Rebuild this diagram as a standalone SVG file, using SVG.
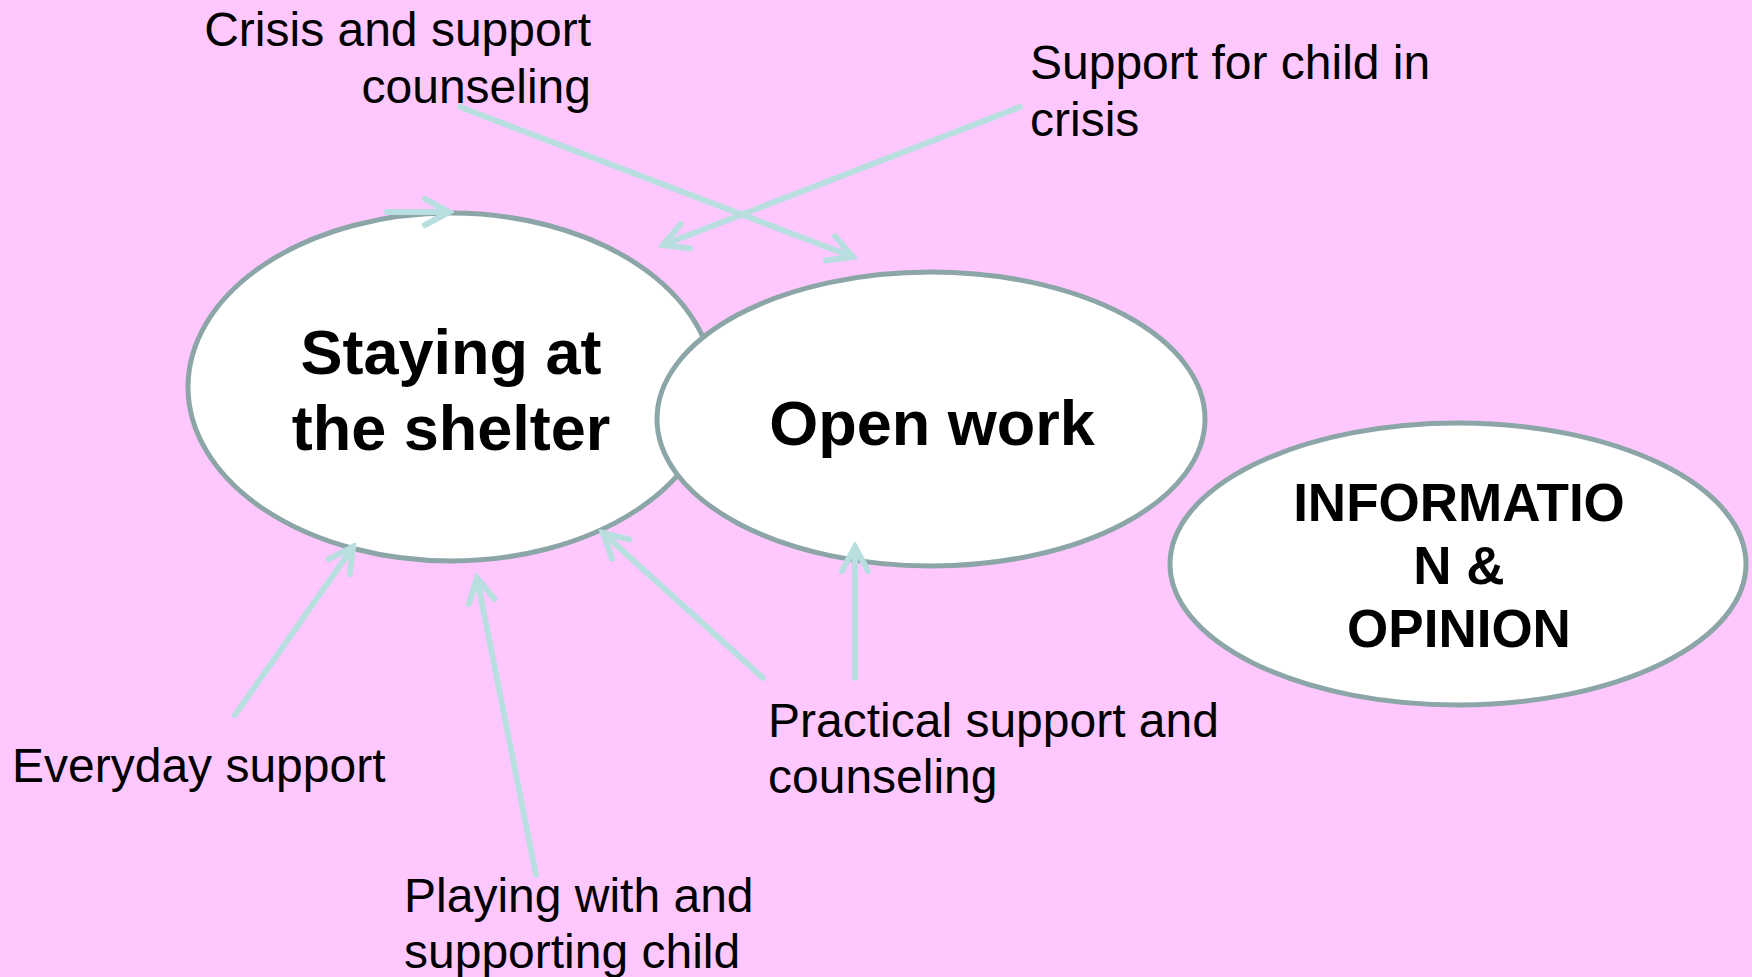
<svg xmlns="http://www.w3.org/2000/svg" width="1752" height="977" viewBox="0 0 1752 977">
<style>
.node{fill:#ffffff;stroke:#8ca6a7;stroke-width:5}
.bold{font-family:"Liberation Sans",Arial,sans-serif;font-weight:bold;fill:#000;text-anchor:middle}
.lbl{font-family:"Liberation Sans",Arial,sans-serif;font-size:48px;fill:#000}
.conn{stroke:#b8dee0;stroke-width:6;fill:none;stroke-linecap:round}
</style>
<defs>
<marker id="arr" markerUnits="userSpaceOnUse" viewBox="0 0 34 34" refX="29" refY="17" markerWidth="34" markerHeight="34" orient="auto">
<path d="M5,4 L29,17 L5,30" fill="none" stroke="#b8dee0" stroke-width="6" stroke-linecap="round" stroke-linejoin="miter"/>
</marker>
</defs>
<rect width="1752" height="977" fill="#fec8fe"/>
<g id="node-shelter">
<ellipse class="node" cx="451" cy="387" rx="263" ry="174"/>
<text class="bold" font-size="63" x="451" y="374">Staying at</text>
<text class="bold" font-size="63" x="451" y="450">the shelter</text>
</g>
<g id="node-openwork">
<ellipse class="node" cx="931" cy="419" rx="274" ry="147"/>
<text class="bold" font-size="63" x="932" y="445">Open work</text>
</g>
<g id="node-info">
<ellipse class="node" cx="1458" cy="564" rx="288" ry="141"/>
<text class="bold" font-size="53" x="1459" y="521">INFORMATIO</text>
<text class="bold" font-size="53" x="1459" y="584">N &amp;</text>
<text class="bold" font-size="53" x="1459" y="647">OPINION</text>
</g>
<g id="labels">
<text class="lbl" x="591" y="46" text-anchor="end">Crisis and support</text>
<text class="lbl" x="591" y="103" text-anchor="end">counseling</text>
<text class="lbl" x="1030" y="79">Support for child in</text>
<text class="lbl" x="1030" y="136">crisis</text>
<text class="lbl" x="12" y="782">Everyday support</text>
<text class="lbl" x="768" y="737">Practical support and</text>
<text class="lbl" x="768" y="793">counseling</text>
<text class="lbl" x="404" y="912">Playing with and</text>
<text class="lbl" x="404" y="968">supporting child</text>
</g>
<g id="connectors">
<line class="conn" x1="460" y1="107" x2="853" y2="257" marker-end="url(#arr)"/>
<line class="conn" x1="1020" y1="107" x2="663" y2="245" marker-end="url(#arr)"/>
<line class="conn" x1="387" y1="212" x2="449" y2="212" marker-end="url(#arr)"/>
<line class="conn" x1="235" y1="715" x2="353" y2="547" marker-end="url(#arr)"/>
<line class="conn" x1="536" y1="875" x2="477" y2="578" marker-end="url(#arr)"/>
<line class="conn" x1="763" y1="678" x2="603" y2="533" marker-end="url(#arr)"/>
<line class="conn" x1="855" y1="678" x2="855" y2="547" marker-end="url(#arr)"/>
</g>
</svg>
